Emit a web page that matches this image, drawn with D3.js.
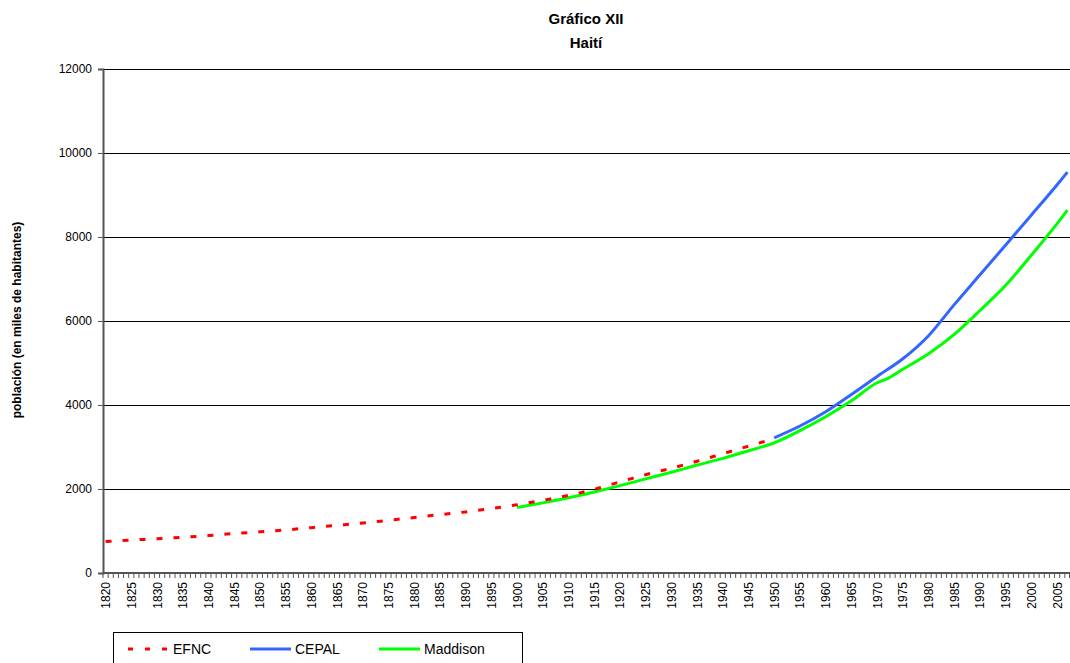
<!DOCTYPE html>
<html>
<head>
<meta charset="utf-8">
<script src="https://cdn.jsdelivr.net/npm/d3@7"></script>
<style>
  body { margin: 0; background: #fff; }
  svg { font-family: "Liberation Sans", Arial, sans-serif; }
</style>
</head>
<body>
<svg id="chart"></svg>
<script>
'use strict';
// years on the category axis
const FIRST_YEAR = 1820, LAST_YEAR = 2007;
const Y_TICKS = [0, 2000, 4000, 6000, 8000, 10000, 12000];

// EFNC (dashed red)
const efncYears = [1820, 1825, 1830, 1835, 1840, 1845, 1850, 1855, 1860, 1865, 1870, 1875, 1880,
                   1885, 1890, 1895, 1900, 1905, 1910, 1915, 1920, 1925, 1930, 1935, 1940, 1945, 1950];
const efncValues = [750, 785, 815, 850, 890, 940, 980, 1025, 1080, 1135, 1190, 1255, 1320,
                    1390, 1455, 1535, 1625, 1730, 1850, 1990, 2170, 2340, 2495, 2660, 2840, 3020, 3200];

// CEPAL (blue)
const cepalYears = [1950, 1955, 1960, 1965, 1970, 1975, 1980, 1985, 1990, 1995, 2000, 2005, 2007];
const cepalValues = [3220, 3500, 3840, 4250, 4680, 5100, 5650, 6390, 7100, 7810, 8525, 9245, 9545];

// Maddison (green)
const maddYears = [1900, 1905, 1910, 1915, 1920, 1925, 1930, 1935, 1940, 1945, 1950, 1955, 1960,
                   1965, 1970, 1972, 1975, 1980, 1985, 1990, 1995, 2000, 2005, 2007];
const maddValues = [1560, 1670, 1790, 1930, 2080, 2240, 2400, 2570, 2730, 2910, 3100, 3390, 3720,
                    4100, 4530, 4630, 4850, 5220, 5680, 6250, 6850, 7570, 8320, 8640];

const WIDTH = 1070, HEIGHT = 663;
const margin = { left: 103, right: 0, top: 69, bottom: 90 };

let svg = d3.select('#chart').attr('width', WIDTH).attr('height', HEIGHT);

let years = d3.range(FIRST_YEAR, LAST_YEAR + 1);
let x = d3.scaleBand().domain(years).range([margin.left, WIDTH - margin.right]).padding(0);
let y = d3.scaleLinear().domain([0, 12000]).range([573, margin.top]);
let xc = function(yr) { return x(yr) + x.bandwidth() / 2; };

// title
svg.append('text').attr('x', 586).attr('y', 24).attr('text-anchor', 'middle')
  .attr('font-weight', 'bold').attr('font-size', 15).text('Gráfico XII');
svg.append('text').attr('x', 586).attr('y', 48).attr('text-anchor', 'middle')
  .attr('font-weight', 'bold').attr('font-size', 15).text('Haití');

// gridlines
svg.append('g').selectAll('line').data(Y_TICKS.slice(1)).enter().append('line')
  .attr('x1', margin.left).attr('x2', WIDTH)
  .attr('y1', function(d) { return y(d) + 0.5; }).attr('y2', function(d) { return y(d) + 0.5; })
  .attr('stroke', '#000').attr('stroke-width', 1);

// y axis
let yAxis = svg.append('g').attr('transform', 'translate(' + margin.left + ',0)')
  .call(d3.axisLeft(y).tickValues(Y_TICKS).tickSize(5).tickPadding(6).tickFormat(d3.format('d')));
yAxis.select('.domain').attr('stroke', '#555').attr('stroke-width', 2);
yAxis.selectAll('.tick line').attr('stroke', '#555');
yAxis.selectAll('text').attr('font-size', 12).attr('font-family', '"Liberation Sans", Arial, sans-serif').attr('fill', '#000');

svg.append('text')
  .attr('transform', 'translate(21,320) rotate(-90)')
  .attr('text-anchor', 'middle').attr('font-weight', 'bold').attr('font-size', 12)
  .text('población (en miles de habitantes)');

// x axis: tick marks at category boundaries
let xg = svg.append('g');
xg.selectAll('line.tk').data(years.concat([LAST_YEAR + 1])).enter().append('line')
  .attr('class', 'tk')
  .attr('x1', function(d) { return d <= LAST_YEAR ? x(d) : WIDTH - 0.5; })
  .attr('x2', function(d) { return d <= LAST_YEAR ? x(d) : WIDTH - 0.5; })
  .attr('y1', 573).attr('y2', 578)
  .attr('stroke', '#555').attr('stroke-width', 1);
xg.append('line').attr('x1', margin.left).attr('x2', WIDTH).attr('y1', 573).attr('y2', 573)
  .attr('stroke', '#555').attr('stroke-width', 2);
xg.selectAll('text').data(years.filter(function(d) { return (d - FIRST_YEAR) % 5 === 0; }))
  .enter().append('text')
  .attr('transform', function(d) { return 'translate(' + (xc(d) + 4.5) + ',582) rotate(-90)'; })
  .attr('text-anchor', 'end').attr('font-size', 12)
  .text(function(d) { return d; });

// series
let line = d3.line().curve(d3.curveMonotoneX)
  .x(function(d) { return xc(d[0]); }).y(function(d) { return y(d[1]); });
let series = [
  { name: 'EFNC', yrs: efncYears, vals: efncValues, color: '#ff0000', dash: '6,11' },
  { name: 'CEPAL', yrs: cepalYears, vals: cepalValues, color: '#3366ff', dash: null },
  { name: 'Maddison', yrs: maddYears, vals: maddValues, color: '#00ff00', dash: null }
];
// draw green first, then blue, red on top
[series[2], series[1], series[0]].forEach(function(s) {
  svg.append('path')
    .datum(d3.zip(s.yrs, s.vals))
    .attr('d', line)
    .attr('fill', 'none')
    .attr('stroke', s.color)
    .attr('stroke-width', 3)
    .attr('stroke-dasharray', s.dash);
});

// legend
let lg = svg.append('g');
lg.append('rect').attr('x', 113.5).attr('y', 632.5).attr('width', 409).attr('height', 40)
  .attr('fill', '#fff').attr('stroke', '#000').attr('stroke-width', 1);
let legX = [128, 250, 379];
series.forEach(function(s, i) {
  lg.append('line').attr('x1', legX[i]).attr('x2', legX[i] + 41).attr('y1', 649).attr('y2', 649)
    .attr('stroke', s.color).attr('stroke-width', 3).attr('stroke-dasharray', s.dash ? '5,12' : null);
  lg.append('text').attr('x', legX[i] + 45).attr('y', 654).attr('font-size', 14).text(s.name);
});
</script>
</body>
</html>
